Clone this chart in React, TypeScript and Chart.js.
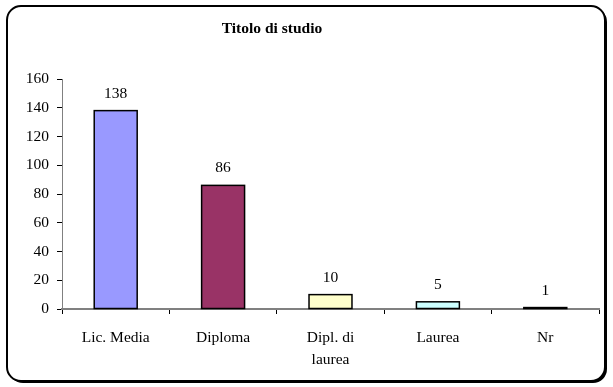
import React, { useEffect, useRef } from "react";
import { Chart, registerables } from "chart.js";

Chart.register(...registerables);

const title = "Titolo di studio";
const categories: (string | string[])[] = ["Lic. Media", "Diploma", ["Dipl. di", "laurea"], "Laurea", "Nr"];
const values = [138, 86, 10, 5, 1];
const barColors = ["#9999FF", "#993366", "#FFFFCC", "#CCFFFF", "#660066"];
const yMax = 160;
const yStep = 20;

const FONT = "'Liberation Serif', 'Times New Roman', serif";
const FS = 15.5;

const framePlugin = {
  id: "frame",
  beforeDraw(chart: any) {
    const ctx = chart.ctx;
    ctx.save();
    ctx.fillStyle = "#ffffff";
    ctx.fillRect(0, 0, chart.width, chart.height);
    const x = 7, y = 6, w = 598, h = 375, r = 14;
    ctx.beginPath();
    ctx.roundRect(x + 2, y + 2, w, h, r);
    ctx.fillStyle = "#000";
    ctx.fill();
    ctx.beginPath();
    ctx.roundRect(x, y, w, h, r);
    ctx.fillStyle = "#fff";
    ctx.fill();
    ctx.lineWidth = 2;
    ctx.strokeStyle = "#000";
    ctx.stroke();
    ctx.fillStyle = "#000";
    ctx.font = `bold ${FS}px ${FONT}`;
    ctx.textAlign = "center";
    ctx.textBaseline = "middle";
    ctx.fillText(title, 272, 29);
    ctx.restore();
  },
  afterDatasetsDraw(chart: any) {
    const ctx = chart.ctx;
    const meta = chart.getDatasetMeta(0);
    ctx.save();
    // bar outlines (drawn from the library's element geometry)
    ctx.strokeStyle = "#000";
    ctx.lineWidth = 1.5;
    meta.data.forEach((el: any) => {
      const left = el.x - el.width / 2;
      ctx.strokeRect(left, el.y, el.width, el.base - el.y);
    });
    ctx.fillStyle = "#000";
    ctx.font = `${FS}px ${FONT}`;
    ctx.textAlign = "center";
    ctx.textBaseline = "middle";
    meta.data.forEach((el: any, i: number) => {
      ctx.fillText(String(values[i]), el.x, el.y - 17);
    });
    ctx.restore();
  },
};

export default function App() {
  const ref = useRef<HTMLCanvasElement>(null);
  useEffect(() => {
    document.body.style.margin = "0";
    const chart = new Chart(ref.current!, {
      type: "bar",
      data: {
        labels: categories,
        datasets: [
          {
            data: values,
            backgroundColor: barColors,
            borderWidth: 0,
            barPercentage: 0.4,
            categoryPercentage: 1,
          },
        ],
      },
      options: {
        animation: false,
        responsive: false,
        layout: { padding: { left: 0, right: 14, top: 79, bottom: 0 } },
        plugins: { legend: { display: false }, tooltip: { enabled: false } },
        scales: {
          x: {
            offset: true,
            grid: {
              offset: true,
              drawOnChartArea: false,
              drawTicks: true,
              tickLength: 5,
              color: "#000",
            },
            border: { color: "#808080", width: 2 },
            ticks: {
              color: "#000",
              font: { family: FONT, size: FS, lineHeight: 1.4 },
              maxRotation: 0,
              padding: 13,
            },
            afterFit(scale: any) {
              scale.height = 387 - 309;
            },
          },
          y: {
            min: 0,
            max: yMax,
            grid: { drawOnChartArea: false, tickLength: 5, color: "#000" },
            border: { color: "#808080", width: 1 },
            ticks: {
              stepSize: yStep,
              color: "#000",
              font: { family: FONT, size: FS },
              padding: 8,
            },
            afterFit(scale: any) {
              scale.width = 62;
            },
          },
        },
      },
      plugins: [framePlugin],
    });
    return () => chart.destroy();
  }, []);
  return (
    <div style={{ position: "absolute", left: 0, top: 0, width: 613, height: 387 }}>
      <canvas ref={ref} width={613} height={387} style={{ width: 613, height: 387 }} />
    </div>
  );
}
